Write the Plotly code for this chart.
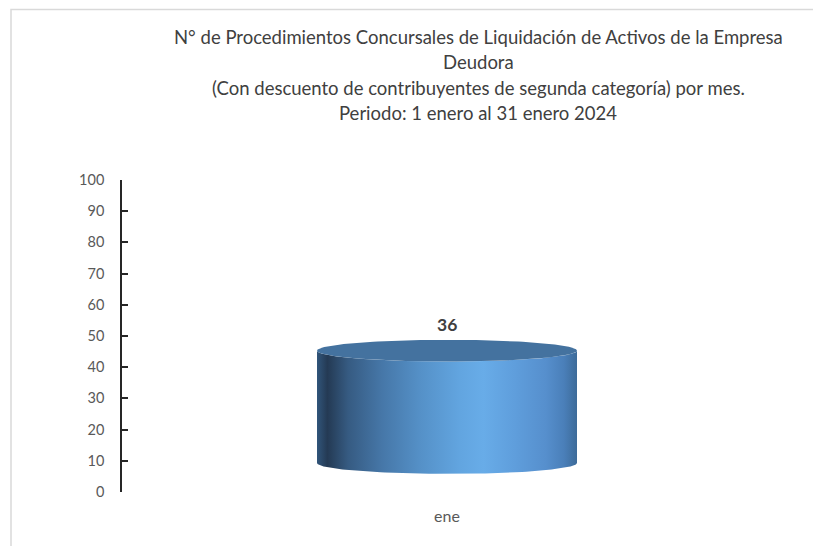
import numpy as np
import plotly.graph_objects as go

# ---- data ----
categories = ["ene"]
values = [36]
y_tick_vals = [0, 10, 20, 30, 40, 50, 60, 70, 80, 90, 100]
title_lines = [
    "N° de Procedimientos Concursales de Liquidación de Activos de la Empresa",
    "Deudora",
    "(Con descuento de contribuyentes de segunda categoría) por mes.",
    "Periodo: 1 enero al 31 enero 2024",
]

# ---- style constants (3D cylinder look) ----
BASE = 9.3      # visual floor offset of the 3D cylinder (axis units)
HALF_W = 0.2    # half width of cylinder (category units)
RY = 3.5        # ellipse half-height (axis units)
FONT = "Lato"
body_scale = [
    [0.00, "#31557a"], [0.04, "#243a54"], [0.12, "#365b82"],
    [0.25, "#4677a8"], [0.40, "#5591c8"], [0.55, "#62a5e0"],
    [0.64, "#68ace8"], [0.76, "#5f9edc"], [0.88, "#568fcd"],
    [0.95, "#4a7fb9"], [1.00, "#3d6b99"],
]
top_color = "#44729f"

# page body has a default 8px margin; size the figure to fit the window
OFF = 8
W, H = 821 - OFF, 546 - OFF
PL, PR, PT, PB = 122, 772, 180, 492   # plot area in window pixels

fig = go.Figure()
t = np.linspace(0, np.pi, 80)
tt = np.linspace(0, 2 * np.pi, 160)
for i, (cat, val) in enumerate(zip(categories, values)):
    top = BASE + val
    bx = np.concatenate([[i - HALF_W, i - HALF_W], i - HALF_W * np.cos(t),
                         [i + HALF_W], i + HALF_W * np.cos(t)])
    by = np.concatenate([[BASE, top], top - RY * np.sin(t),
                         [BASE], BASE - RY * np.sin(t)])
    fig.add_trace(go.Scatter(
        x=bx, y=by, mode="lines", fill="toself", line=dict(width=0),
        fillgradient=dict(type="horizontal", colorscale=body_scale),
        hoverinfo="skip", showlegend=False))
    fig.add_trace(go.Scatter(
        x=i + HALF_W * np.cos(tt), y=top + RY * np.sin(tt), mode="lines",
        fill="toself", fillcolor=top_color, line=dict(width=0),
        hoverinfo="skip", showlegend=False))
    fig.add_annotation(x=i, y=top + RY, text=f"<b>{val}</b>", showarrow=False,
                       yanchor="bottom", yshift=3,
                       font=dict(family=FONT, size=17.5, color="#404040"))

pw, ph = PR - PL, PB - PT

# title lines
title_px = [37, 62, 88, 113]
for line, py in zip(title_lines, title_px):
    fig.add_annotation(xref="paper", yref="paper",
                       x=(478 - PL) / pw, y=(PB - py) / ph,
                       text=line, showarrow=False, xanchor="center", yanchor="middle",
                       font=dict(family=FONT, size=18.5, color="#404040"))

# chart frame
fig.add_shape(type="rect", xref="paper", yref="paper",
              x0=(11 - PL) / pw, y0=(PB - 9.5) / ph, x1=2, y1=-1,
              line=dict(color="#d9d9d9", width=1.5), fillcolor="rgba(0,0,0,0)", layer="below")

fig.update_layout(
    width=W, height=H,
    margin=dict(l=PL - OFF, r=W - (PR - OFF), t=PT - OFF, b=H - (PB - OFF)),
    paper_bgcolor="white", plot_bgcolor="white",
    font=dict(family=FONT, color="#595959", size=14.5),
    xaxis=dict(range=[-0.5, len(categories) - 0.5], tickvals=list(range(len(categories))),
               ticktext=categories, showline=False, showgrid=False, zeroline=False,
               ticks="", ticklabelstandoff=13, tickfont=dict(size=16), fixedrange=True),
    yaxis=dict(range=[0, 100], tickvals=y_tick_vals, showline=True, linecolor="#262626",
               linewidth=1.5, ticks="inside", ticklen=6, tickcolor="#262626", tickwidth=1.5,
               showgrid=False, zeroline=False, ticklabelstandoff=13, fixedrange=True),
)
fig.write_html("out.html")
